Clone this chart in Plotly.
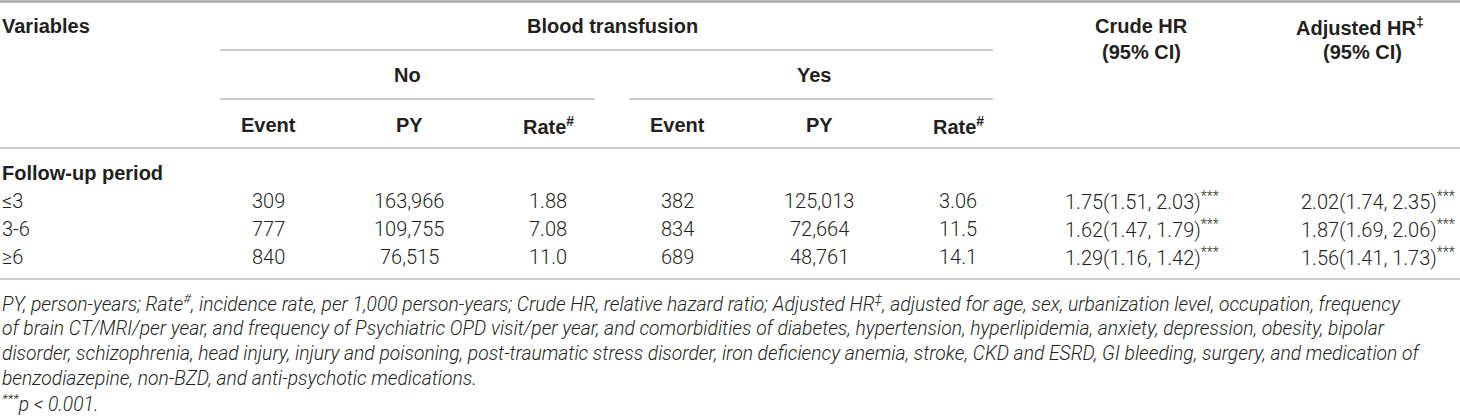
import plotly.graph_objects as go

# table values
periods = ["≤3", "3-6", "≥6"]
no_event = [309, 777, 840]
no_py = [163966, 109755, 76515]
no_rate = [1.88, 7.08, 11.0]
yes_event = [382, 834, 689]
yes_py = [125013, 72664, 48761]
yes_rate = [3.06, 11.5, 14.1]
crude_hr = [1.75, 1.62, 1.29]
crude_lo = [1.51, 1.47, 1.16]
crude_hi = [2.03, 1.79, 1.42]
adj_hr = [2.02, 1.87, 1.56]
adj_lo = [1.74, 1.69, 1.41]
adj_hi = [2.35, 2.06, 1.73]

footnotes = [
    "PY, person-years; Rate<sup>#</sup>, incidence rate, per 1,000 person-years; Crude HR, relative hazard ratio; "
    "Adjusted HR<sup>‡</sup>, adjusted for age, sex, urbanization level, occupation, frequency",
    "of brain CT/MRI/per year, and frequency of Psychiatric OPD visit/per year, and comorbidities of diabetes, "
    "hypertension, hyperlipidemia, anxiety, depression, obesity, bipolar",
    "disorder, schizophrenia, head injury, injury and poisoning, post-traumatic stress disorder, iron deficiency "
    "anemia, stroke, CKD and ESRD, GI bleeding, surgery, and medication of",
    "benzodiazepine, non-BZD, and anti-psychotic medications.",
    "<sup>***</sup>p &lt; 0.001.",
]

W, H = 1460, 416
TXT = "#231f20"
LINE = "#9a9a9a"
BODY = dict(family="Roboto, Liberation Sans, Arial", size=20, color=TXT, weight=300)
BOLD = dict(family="Liberation Sans, Arial", size=20, color=TXT, weight=700)
NOTE = dict(family="Roboto, Liberation Sans, Arial", size=19.3, color=TXT, weight=300)

col_x = [268, 409, 548, 677, 819, 958, 1142, 1378]
row_y = [201, 229, 257]

fig = go.Figure()
fig.add_trace(go.Scatter(x=[0, W], y=[0, H], mode="markers", marker=dict(opacity=0), hoverinfo="skip"))


def txt(x, y, s, font, anchor="center"):
    fig.add_annotation(x=x, y=y, xref="x", yref="y", text=s, showarrow=False,
                       xanchor=anchor, yanchor="middle", font=font)


def hline(x0, x1, y, width=1.2, color=LINE):
    fig.add_shape(type="line", xref="x", yref="y", x0=x0, x1=x1, y0=y, y1=y,
                  line=dict(color=color, width=width))


# header
txt(0, 26, "Variables", BOLD, "left")
txt(612, 26, "Blood transfusion", BOLD)
txt(1141, 26, "Crude HR", BOLD)
txt(1141, 52, "(95% CI)", BOLD)
txt(1360, 26, "Adjusted HR<sup>‡</sup>", BOLD)
txt(1362, 52, "(95% CI)", BOLD)
txt(407, 75, "No", BOLD)
txt(814, 75, "Yes", BOLD)
sub = ["Event", "PY", "Rate<sup>#</sup>"]
for i, s in enumerate(sub + sub):
    txt(col_x[i], 125, s, BOLD)
txt(0, 173, "Follow-up period", BOLD, "left")

hline(0, W, 1.5, width=2.5, color="#a8a8a8")
hline(220, 993, 50)
hline(220, 595, 99)
hline(629, 993, 99)
hline(0, W, 148)
hline(0, W, 279)

# body rows
for r in range(len(periods)):
    y = row_y[r]
    txt(0, y, periods[r], BODY, "left")
    cells = [
        f"{no_event[r]}", f"{no_py[r]:,}", f"{no_rate[r]:#.3g}",
        f"{yes_event[r]}", f"{yes_py[r]:,}", f"{yes_rate[r]:#.3g}",
        f"{crude_hr[r]:.2f}({crude_lo[r]:.2f}, {crude_hi[r]:.2f})<sup>***</sup>",
        f"{adj_hr[r]:.2f}({adj_lo[r]:.2f}, {adj_hi[r]:.2f})<sup>***</sup>",
    ]
    for c, s in enumerate(cells):
        txt(col_x[c], y, s, BODY)

for i, line in enumerate(footnotes):
    txt(0, 303 + 25 * i, f"<i>{line}</i>", NOTE, "left")

fig.update_layout(
    width=W, height=H, margin=dict(l=0, r=0, t=0, b=0),
    plot_bgcolor="white", paper_bgcolor="white", showlegend=False,
    xaxis=dict(range=[0, W], visible=False, fixedrange=True),
    yaxis=dict(range=[H, 0], visible=False, fixedrange=True),
)
fig.write_html("out.html", config={"displayModeBar": False},
               post_script="document.body.style.margin='0';document.body.style.overflow='hidden';")
